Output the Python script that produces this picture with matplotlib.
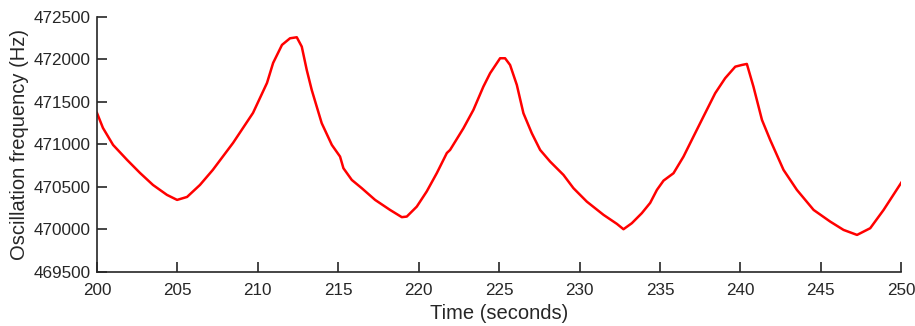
import matplotlib
matplotlib.use("Agg")
import matplotlib.pyplot as plt

time_s = [200.0, 200.37, 201.0, 201.87, 202.67, 203.48, 204.35, 204.98, 205.6, 206.4,
          207.2, 208.46, 209.7, 210.57, 210.95, 211.5, 212.0, 212.42, 212.73, 213.04,
          213.35, 213.66, 213.97, 214.6, 215.11, 215.32, 215.84, 216.46, 217.29, 218.22,
          218.95, 219.26, 219.88, 220.5, 221.13, 221.75, 221.95, 222.78, 223.4, 224.02,
          224.44, 225.06, 225.37, 225.68, 226.1, 226.51, 227.03, 227.55, 228.17, 229.0,
          229.62, 230.45, 231.49, 232.32, 232.73, 233.25, 233.87, 234.39, 234.81, 235.22,
          235.84, 236.46, 237.08, 237.7, 238.43, 239.05, 239.68, 240.09, 240.4, 240.81,
          241.34, 241.85, 242.68, 243.51, 244.55, 245.58, 246.41, 247.25, 248.07, 248.9,
          250.0]
freq_hz = [471370, 471194, 470994, 470818, 470665, 470523, 470406, 470347, 470382, 470523,
           470700, 471018, 471371, 471724, 471959, 472171, 472249, 472261, 472151, 471876,
           471641, 471445, 471250, 470994, 470857, 470720, 470582, 470485, 470347, 470229,
           470144, 470151, 470268, 470447, 470664, 470899, 470935, 471190, 471406, 471680,
           471838, 472014, 472014, 471935, 471700, 471367, 471132, 470935, 470798, 470641,
           470485, 470327, 470171, 470065, 470002, 470073, 470191, 470312, 470465, 470574,
           470661, 470856, 471092, 471327, 471602, 471779, 471915, 471935, 471947, 471680,
           471288, 471053, 470700, 470465, 470229, 470092, 469994, 469935, 470014, 470229,
           470550]

x_ticks = [200, 205, 210, 215, 220, 225, 230, 235, 240, 245, 250]
y_ticks = [469500, 470000, 470500, 471000, 471500, 472000, 472500]

plt.rcParams['font.family'] = ['Liberation Sans', 'DejaVu Sans']
dark = '#262626'

fig = plt.figure(figsize=(9.15, 3.26), dpi=100)
ax = fig.add_axes([0.106, 0.166, 0.879, 0.782])
ax.plot(time_s, freq_hz, color='#ff0000', linewidth=1.8)
ax.set_xlim(200, 250)
ax.set_ylim(469500, 472500)
ax.set_xticks(x_ticks)
ax.set_yticks(y_ticks)
ax.set_xticklabels([str(v) for v in x_ticks])
ax.set_yticklabels([str(v) for v in y_ticks])
for s in ['top', 'right']:
    ax.spines[s].set_visible(False)
for s in ['left', 'bottom']:
    ax.spines[s].set_color(dark)
    ax.spines[s].set_linewidth(1.2)
ax.tick_params(direction='in', length=7, width=1.2, color=dark, labelcolor=dark,
               labelsize=12.3)
ax.tick_params(axis='x', pad=8)
ax.tick_params(axis='y', pad=4.5)
ax.set_xlabel('Time (seconds)', fontsize=14.5, color=dark, labelpad=4)
ax.set_ylabel('Oscillation frequency (Hz)', fontsize=14.5, color=dark, labelpad=3)
fig.savefig('out.png', dpi=100)
